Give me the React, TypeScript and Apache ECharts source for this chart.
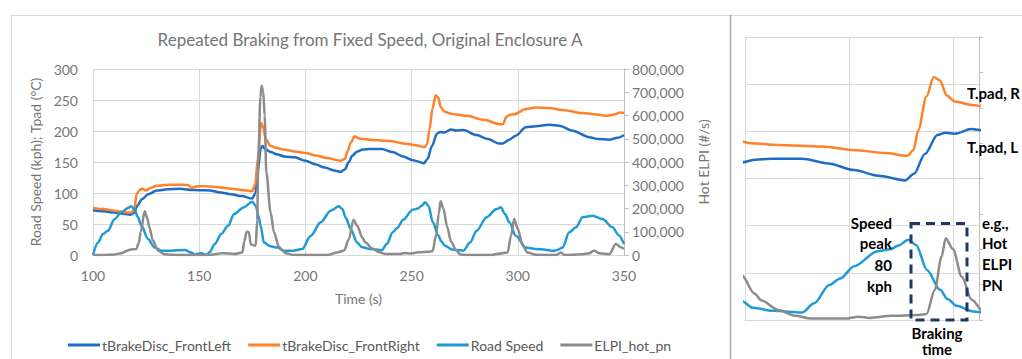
import React, { useEffect, useRef } from "react";
import * as echarts from "echarts";

const seriesNames = ["tBrakeDisc_FrontLeft", "tBrakeDisc_FrontRight", "Road Speed", "ELPI_hot_pn"];
const seriesColors = ["#1F6CC4", "#FF8129", "#1E9BD7", "#8C8C8C"];

// [time (s), °C]
const discFrontLeft = [
  [100, 72], [105, 70.5], [110, 68.5], [115, 66], [117.5, 65], [119, 67], [121, 80], [123, 90], [126, 98],
  [130, 104], [135, 106], [141, 107], [146, 105], [150, 104.5], [155, 104], [160, 101], [165, 98], [170, 95],
  [175, 91], [176.5, 100], [177.5, 133], [179, 172], [179.8, 176], [181.3, 170], [183.6, 166], [187, 162],
  [190, 159], [195, 157.5], [200, 152], [205, 146], [209, 141], [214, 136], [216.6, 134], [218.5, 138],
  [220.5, 150], [222, 160], [224.4, 167], [227, 170], [230, 171], [236, 171], [241, 166], [246, 159],
  [250.6, 153], [255.8, 148], [257.5, 155], [259.6, 176], [262, 196], [263.5, 198.5], [265.4, 197.5],
  [268.5, 202.5], [271, 201], [274.4, 201.5], [280.6, 193.5], [286, 187], [291, 180], [293, 180], [296, 186],
  [299, 192.5], [303.8, 206], [308.5, 207.5], [314.8, 210], [319.5, 208.6], [325.8, 200.5], [333.6, 190],
  [338, 187], [343, 186], [347, 189], [350, 193.5],
];

// [time (s), °C]
const discFrontRight = [
  [100, 76], [105, 74], [110, 71.5], [115, 69], [118, 68], [119.5, 75], [120.5, 98], [122, 105], [123, 107],
  [125, 104], [127, 108], [130, 111.5], [134, 113], [140, 113.5], [144.7, 113], [146.5, 108], [148, 110],
  [150, 111], [155, 110.5], [160, 109], [165, 107], [170, 105], [175, 103], [176.5, 115], [177.5, 155],
  [179.2, 213], [180.2, 205], [181.3, 187], [183.6, 176], [187, 172], [190, 170], [195, 167], [200, 164.5],
  [205, 160.5], [210, 156.5], [216.6, 152], [218.5, 155], [220, 168], [221.3, 181], [223.2, 191.5],
  [224.5, 189], [226, 187.5], [231.4, 185.6], [239.7, 184], [246.2, 180], [252, 177], [256.2, 174],
  [257.4, 180], [258.3, 201], [259.9, 237], [261.3, 257.5], [262.5, 254], [263.8, 238], [265.4, 231.5],
  [268.6, 228], [271, 226.5], [276, 224.5], [284, 218], [291.6, 211], [293, 211], [294.5, 222], [296, 226],
  [298.3, 227], [303.8, 235.5], [308.5, 238], [314.8, 237], [321, 234], [330.5, 229], [337, 226.5],
  [342.3, 224.5], [346, 227], [348, 230], [350, 229],
];

// [time (s), kph]
const roadSpeed = [
  [100, 0], [102.4, 20], [104.7, 34], [107, 39], [110.2, 58], [113.3, 69], [116.5, 76], [118, 78.5],
  [119.6, 74], [121, 62], [122.8, 47], [125.9, 26], [129, 12], [132.2, 7], [136.9, 7], [143.2, 8],
  [146.3, 4], [147.9, 1], [149.5, 2], [151, 3], [153.4, 0], [155, 5], [157.3, 17.7], [160.4, 34],
  [163.6, 47], [166.4, 66], [171.1, 77], [175, 86], [176.6, 79.6], [178, 62], [178.9, 47], [180.5, 20],
  [183.6, 14], [186.8, 12], [189.9, 7], [194.6, 7], [198.5, 9.7], [202.5, 31], [207.2, 52.7], [211.9, 71.5],
  [215.8, 78.5], [217.4, 74], [219, 60], [221.3, 42], [224.4, 20], [226.5, 13], [230.4, 9.7], [236, 8],
  [238.3, 17.7], [241.2, 37], [243.3, 44], [246, 57], [250.5, 73], [253, 75], [254.5, 79], [256.4, 85],
  [257.9, 79.6], [260, 53], [262.5, 32], [264, 22], [265.7, 15], [268.9, 9], [271.2, 8], [274.4, 7],
  [277.5, 20], [280.6, 39], [285.3, 61], [290, 74], [292, 77], [294, 66], [296, 52.7], [299.1, 31],
  [303.8, 12], [308.5, 9.7], [313.2, 8.6], [316.4, 6.5], [318.5, 8], [321.1, 12], [324.2, 36.6],
  [327.4, 44.6], [330.5, 61], [335.2, 63.4], [339.9, 58], [344.6, 44.6], [347.5, 32], [350, 17.7],
];

// [time (s), #/s]
const elpiHotPn = [
  [100, 0], [105, 0], [110, 2000], [113.3, 8000], [117.3, 23000], [120.4, 26000], [121.5, 50000],
  [122.5, 100000], [124.3, 188000], [125.5, 160000], [126.5, 120000], [128.2, 62000], [130.6, 19000],
  [133.7, 3000], [140, 0], [155, 0], [158, 4000], [160.4, 8000], [161.7, 8000], [166.4, 4000],
  [170.3, 11000], [171.3, 60000], [172.3, 100000], [173.4, 98000], [174.3, 45000], [176.6, 40000],
  [177.3, 150000], [177.8, 398000], [178.8, 680000], [179.4, 728000], [180.2, 700000], [180.8, 600000],
  [181.6, 356000], [183.6, 184000], [185.2, 98000], [187.6, 33000], [190.7, 8000], [194.6, 0], [210.3, 0],
  [215, 11000], [218.2, 19000], [220.5, 69000], [222.6, 152000], [224.4, 126000], [226.8, 75000],
  [228.2, 55000], [231.4, 28000], [234.6, 12000], [237.8, 4000], [244.2, 4000], [246.8, 9000], [249, 6000],
  [253.2, 12000], [258.3, 14000], [259.9, 17000], [261.5, 85000], [262.8, 179000], [263.6, 231000],
  [265, 200000], [266.7, 122000], [268.6, 57000], [271, 21000], [272.8, 3000], [275, 0], [288, 0],
  [289.7, 4000], [295.2, 11000], [296.8, 83000], [298.3, 155000], [300, 112000], [302.3, 40000],
  [304.6, 11000], [308.5, 1000], [318, 0], [320.3, 11000], [321.9, 0], [330, 3000], [333.6, 8000],
  [336, 19000], [338.3, 7000], [343, 3000], [346.2, 47000], [348.5, 33000], [350, 26000],
];

const chartTitle = "Repeated Braking from Fixed Speed, Original Enclosure A";
const xAxisName = "Time (s)";
const yLeftName = "Road Speed (kph); Tpad (°C)";
const yRightName = "Hot ELPI (#/s)";
const zoomWindow = [225, 270];

const FONT = "Lato";
const LABEL = "#767676";
const GRID_LINE = "#d9d9d9";
const AXIS_LINE = "#bfbfbf";

const fmtThousands = (v: number) => String(v).replace(/\B(?=(\d{3})+(?!\d))/g, ",");

export default function App() {
  const ref = useRef<HTMLDivElement>(null);

  useEffect(() => {
    if (!ref.current) return;
    const chart = echarts.init(ref.current, undefined, { renderer: "svg" });
    const allData = [discFrontLeft, discFrontRight, roadSpeed, elpiHotPn];

    const mk = (i: number, panel: number) => ({
      type: "line",
      name: panel === 0 ? seriesNames[i] : seriesNames[i] + " (detail)",
      data: allData[i],
      xAxisIndex: panel,
      yAxisIndex: panel * 2 + (i === 3 ? 1 : 0),
      symbol: "none",
      showSymbol: false,
      smooth: 0.3,
      smoothMonotone: "x",
      clip: true,
      lineStyle: { color: seriesColors[i], width: 2.5 },
      itemStyle: { color: seriesColors[i] },
      z: 2 + i,
    });

    const bold = (text: string, x: number, y: number, align: string) => ({
      type: "text",
      z: 100,
      style: { text, x, y, fill: "#000", fontFamily: FONT, fontWeight: "bold", fontSize: 15, align, verticalAlign: "middle" },
    });

    const option: any = {
      animation: false,
      textStyle: { fontFamily: FONT },
      grid: [
        { left: 93, top: 69, width: 531, height: 186 },
        { left: 745, top: 37, width: 234, height: 283 },
      ],
      xAxis: [
        {
          gridIndex: 0, type: "value", min: 100, max: 350, interval: 50,
          name: xAxisName, nameLocation: "middle", nameGap: 36,
          nameTextStyle: { fontFamily: FONT, fontSize: 14, color: LABEL },
          axisLine: { show: true, lineStyle: { color: GRID_LINE } },
          axisTick: { show: false },
          axisLabel: { fontFamily: FONT, fontSize: 14, color: LABEL, margin: 13 },
          splitLine: { show: true, lineStyle: { color: GRID_LINE } },
        },
        {
          gridIndex: 1, type: "value", min: zoomWindow[0], max: zoomWindow[1], interval: 20,
          axisLine: { show: true, lineStyle: { color: GRID_LINE } },
          axisTick: { show: false },
          axisLabel: { show: false },
          splitLine: { show: true, lineStyle: { color: GRID_LINE } },
        },
      ],
      yAxis: [
        {
          gridIndex: 0, type: "value", min: 0, max: 300, interval: 50,
          name: yLeftName, nameLocation: "middle", nameGap: 40,
          nameTextStyle: { fontFamily: FONT, fontSize: 14, color: LABEL },
          axisLine: { show: false }, axisTick: { show: false },
          axisLabel: { fontFamily: FONT, fontSize: 14, color: LABEL, margin: 15 },
          splitLine: { show: true, lineStyle: { color: GRID_LINE } },
        },
        {
          gridIndex: 0, type: "value", position: "right", min: 0, max: 800000, interval: 100000,
          name: yRightName, nameLocation: "middle", nameRotate: 90, nameGap: 72,
          nameTextStyle: { fontFamily: FONT, fontSize: 14, color: LABEL },
          axisLine: { show: true, lineStyle: { color: AXIS_LINE } },
          axisTick: { show: true, inside: false, length: 5, lineStyle: { color: AXIS_LINE } },
          axisLabel: { fontFamily: FONT, fontSize: 14, color: LABEL, margin: 8, formatter: fmtThousands },
          splitLine: { show: false },
        },
        {
          gridIndex: 1, type: "value", min: 0, max: 300, interval: 50,
          axisLine: { show: true, lineStyle: { color: GRID_LINE } }, axisTick: { show: false },
          axisLabel: { show: false },
          splitLine: { show: true, lineStyle: { color: GRID_LINE } },
        },
        {
          gridIndex: 1, type: "value", position: "right", min: 0, max: 800000, interval: 100000,
          axisLine: { show: true, lineStyle: { color: AXIS_LINE } },
          axisTick: { show: true, inside: false, length: 4, lineStyle: { color: AXIS_LINE } },
          axisLabel: { show: false },
          splitLine: { show: false },
        },
      ],
      legend: {
        data: seriesNames,
        left: 63, top: 333,
        icon: "rect", itemWidth: 32, itemHeight: 3, itemGap: 17,
        textStyle: { fontFamily: FONT, fontSize: 14, color: "#595959", padding: [0, 0, 0, -3] },
      },
      series: [0, 1, 2, 3].map((i) => mk(i, 0)).concat([0, 1, 2, 3].map((i) => mk(i, 1))),
      graphic: [
        { type: "line", z: 50, shape: { x1: 11, y1: 15.5, x2: 1022, y2: 15.5 }, style: { stroke: GRID_LINE, lineWidth: 1 } },
        { type: "line", z: 50, shape: { x1: 11.5, y1: 15, x2: 11.5, y2: 359 }, style: { stroke: GRID_LINE, lineWidth: 1 } },
        { type: "line", z: 50, shape: { x1: 730.5, y1: 15, x2: 730.5, y2: 359 }, style: { stroke: "#a6a6a6", lineWidth: 1.5 } },
        {
          type: "text", z: 100,
          style: { text: chartTitle, x: 370, y: 39, fill: "#757575", fontFamily: FONT, fontSize: 17, align: "center", verticalAlign: "middle" },
        },
        bold("T.pad, R", 967, 93, "left"),
        bold("T.pad, L", 967, 147, "left"),
        bold("Speed", 892, 222.7, "right"),
        bold("peak", 892, 243.3, "right"),
        bold("80", 892, 264.5, "right"),
        bold("kph", 892, 285.5, "right"),
        bold("e.g.,", 982, 222.7, "left"),
        bold("Hot", 982, 243, "left"),
        bold("ELPI", 982, 263.5, "left"),
        bold("PN", 982, 285, "left"),
        bold("Braking", 937, 333, "center"),
        bold("time", 937, 349, "center"),
        {
          type: "rect", z: 90,
          shape: { x: 911, y: 223.5, width: 56, height: 96.5 },
          style: { fill: "transparent", stroke: "#1F3864", lineWidth: 3, lineDash: [9, 6] },
        },
      ],
    };

    chart.setOption(option);
    return () => chart.dispose();
  }, []);

  return (
    <div
      ref={ref}
      style={{ position: "absolute", left: 0, top: 0, width: 1022, height: 359, background: "#fff" }}
    />
  );
}
